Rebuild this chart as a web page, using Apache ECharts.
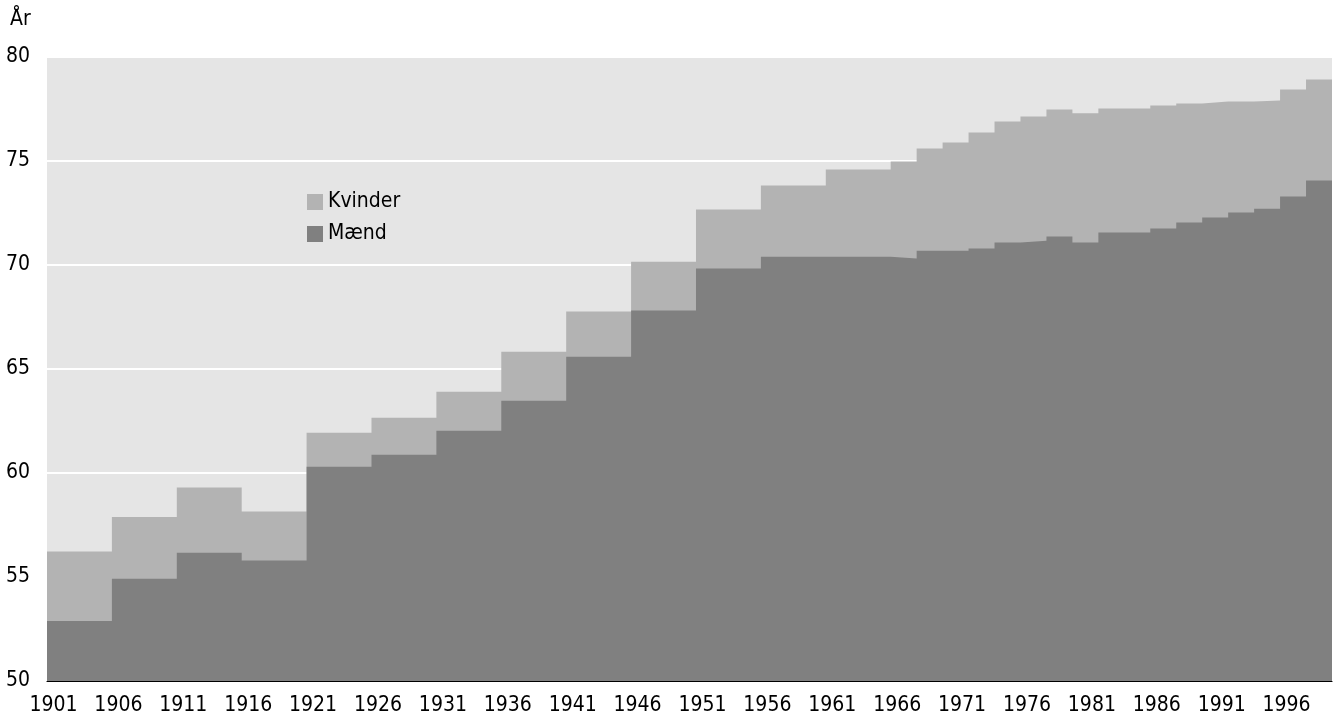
<!DOCTYPE html>
<html>
<head>
<meta charset="utf-8">
<script src="https://cdn.jsdelivr.net/npm/echarts@6/dist/echarts.min.js"></script>
<style>
html,body{margin:0;padding:0;background:#fff;}
#c{width:1340px;height:715px;}
</style>
</head>
<body>
<div id="c"></div>
<script>
// Period start years (each step runs until the next start; last ends at 2000)
const periodStarts = [1901,1906,1911,1916,1921,1926,1931,1936,1941,1946,1951,1956,1961,
  1966,1968,1970,1972,1974,1976,1978,1980,1982,1984,1986,1988,1990,1992,1994,1996,1998];
const periodEnd = 2000;
const kvinder = [56.22,57.89,59.30,58.15,61.93,62.66,63.91,65.83,67.76,70.16,72.67,73.82,74.59,
  74.98,75.60,75.89,76.37,76.90,77.14,77.48,77.29,77.53,77.53,77.67,77.77,77.86,77.86,77.91,78.44,78.92];
const maend = [52.89,54.92,56.17,55.79,60.30,60.88,62.03,63.47,65.59,67.81,69.83,70.40,70.40,
  70.31,70.69,70.69,70.79,71.08,71.17,71.37,71.08,71.56,71.56,71.75,72.04,72.28,72.52,72.71,73.29,74.06];
const seriesNames = ['Kvinder','Mænd'];
const yTicks = {min:50, max:80, interval:5};
const xTicks = {min:1901, max:2000, interval:5};
const yUnit = 'År';

function stepData(vals){
  const d = periodStarts.map((s,i)=>[s, vals[i]]);
  d.push([periodEnd, vals[vals.length-1]]);
  return d;
}

const FONT = '"Liberation Sans Narrow","Arial Narrow","DejaVu Sans Condensed",sans-serif';
const chart = echarts.init(document.getElementById('c'), null, {renderer:'canvas'});
chart.setOption({
  animation:false,
  backgroundColor:'#ffffff',
  textStyle:{fontFamily:FONT},
  title:{text:yUnit, left:10, top:9, padding:0, textStyle:{fontFamily:FONT, fontSize:21, fontWeight:'normal', color:'#000'}},
  legend:{
    orient:'vertical', left:307, top:187, padding:0,
    itemWidth:16, itemHeight:16, itemGap:2, icon:'rect',
    textStyle:{fontFamily:FONT, fontSize:21, color:'#000', lineHeight:22, padding:[0,0,8,0]},
    data:seriesNames
  },
  grid:{left:47, right:8, top:57, bottom:34, show:true, backgroundColor:'#e5e5e5', borderWidth:0, containLabel:false, outerBoundsMode:'none'},
  xAxis:{
    type:'value', min:xTicks.min, max:xTicks.max, interval:xTicks.interval,
    axisLine:{show:true, lineStyle:{color:'#000', width:1.2}},
    axisTick:{show:false},
    splitLine:{show:false},
    axisLabel:{show:true, showMaxLabel:false, color:'#000', fontFamily:FONT, fontSize:21, margin:14, padding:[0,0,0,13], formatter:v=>String(v)}
  },
  yAxis:{
    type:'value', min:yTicks.min, max:yTicks.max, interval:yTicks.interval,
    axisLine:{show:false}, axisTick:{show:false},
    splitLine:{show:true, lineStyle:{color:'#ffffff', width:2}},
    axisLabel:{color:'#000', fontFamily:FONT, fontSize:21, margin:17, padding:[0,0,7,0]}
  },
  series:[
    {name:seriesNames[0], type:'line', step:'end', data:stepData(kvinder), symbol:'none',
     color:'#b3b3b3', lineStyle:{width:0}, areaStyle:{color:'#b3b3b3', opacity:1, origin:'start'}, z:2},
    {name:seriesNames[1], type:'line', step:'end', data:stepData(maend), symbol:'none',
     color:'#808080', lineStyle:{width:0}, areaStyle:{color:'#808080', opacity:1, origin:'start'}, z:3}
  ]
});
</script>
</body>
</html>
